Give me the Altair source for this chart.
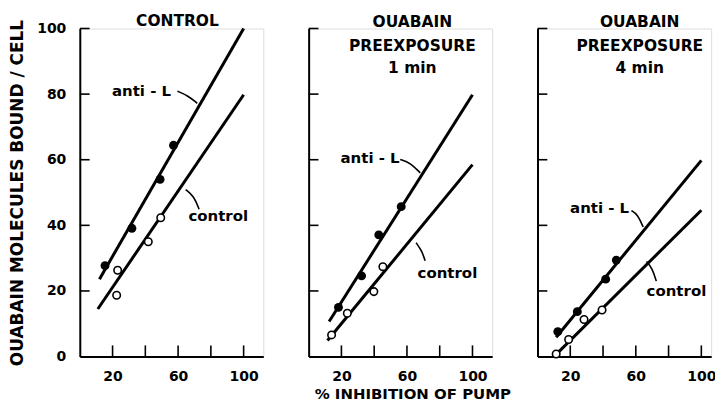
import altair as alt
import pandas as pd

FONT = "DejaVu Sans"

# ---- data (x = % inhibition of pump, y = ouabain molecules bound / cell)
antiL_line_x = [[12.0, 100.0], [12.5, 100.0], [11.4, 100.0]]
antiL_line_y = [[23.6, 100.0], [10.7, 79.8], [5.9, 59.8]]
ctrl_line_x = [[11.0, 100.0], [11.5, 100.0], [10.0, 100.0]]
ctrl_line_y = [[14.5, 79.8], [4.9, 58.5], [0.0, 44.6]]

antiL_pts_x = [[15.4, 31.8, 49.0, 57.2], [18.2, 32.3, 42.8, 56.5], [12.4, 24.3, 41.6, 48.1]]
antiL_pts_y = [[27.7, 39.1, 54.0, 64.4], [15.0, 24.6, 37.1, 45.7], [7.6, 13.7, 23.6, 29.4]]
ctrl_pts_x = [[23.1, 22.5, 41.8, 49.4], [14.0, 23.6, 39.8, 45.3], [11.4, 19.0, 28.4, 39.4]]
ctrl_pts_y = [[26.3, 18.7, 35.0, 42.3], [6.6, 13.2, 19.8, 27.4], [0.8, 5.2, 11.3, 14.2]]

# panel headings
title_lines = [["CONTROL"], ["OUABAIN", "PREEXPOSURE", "1 min"], ["OUABAIN", "PREEXPOSURE", "4 min"]]
title_y = [[102.4], [101.9, 94.8, 87.9], [101.9, 94.8, 87.9]]
title_x = [59.6, 63.3, 62.4]

# series labels and their leader curves
label_text = ["anti - L", "control"]
antiL_label_xy = [(37.7, 80.9), (37.5, 60.6), (37.9, 45.3)]
ctrl_label_xy = [(84.5, 42.9), (84.7, 25.6), (84.8, 19.9)]
antiL_leader_x = [[59.6, 65.7, 71.7], [55.9, 62.0, 68.1], [57.3, 61.0, 64.5]]
antiL_leader_y = [[80.9, 79.6, 77.2], [60.1, 59.1, 56.0], [44.5, 43.4, 39.5]]
ctrl_leader_x = [[64.6, 69.7, 72.8], [65.6, 69.1, 71.1], [66.5, 70.0, 72.5]]
ctrl_leader_y = [[50.9, 48.9, 44.9], [34.7, 32.2, 29.2], [29.0, 27.0, 23.0]]

# axes
x_tick_values = [20, 40, 60, 80, 100]
x_label_values = [20, 60, 100]
y_tick_values = [20, 40, 60, 80, 100]
y_label_values = [0, 20, 40, 60, 80, 100]
x_domains = [[0, 112], [0, 112], [0, 106]]
y_domain = [0, 100]
x_tick_len = 3.4   # in y data units (inward tick)
y_tick_len = 6.0   # in x data units (inward tick)

y_title = "OUABAIN MOLECULES BOUND / CELL"
x_title = "% INHIBITION OF PUMP"

PX_PER_X = 1.643
H = 329


def make_panel(i):
    show_y = i == 0
    show_xtitle = i == 1
    W = (x_domains[i][1] - x_domains[i][0]) * PX_PER_X
    xaxis = alt.Axis(
        values=x_label_values, ticks=False, grid=False, domain=True,
        domainColor="black", domainWidth=2, labelFont=FONT, labelFontWeight="bold",
        labelFontSize=14, labelColor="black", labelPadding=13,
        title=x_title if show_xtitle else None,
        titleFont=FONT, titleFontWeight="bold", titleFontSize=15, titleColor="black",
        titlePadding=3, titleX=W / 2 + 12,
    )
    yaxis = alt.Axis(
        values=y_label_values, ticks=False, grid=False, domain=True,
        domainColor="black", domainWidth=2, labels=show_y, labelFont=FONT,
        labelFontWeight="bold", labelFontSize=14, labelColor="black", labelPadding=14,
        title=y_title if show_y else None,
        titleFont=FONT, titleFontWeight="bold", titleFontSize=17, titleColor="black",
        titlePadding=10,
    )
    sx = alt.Scale(domain=x_domains[i], nice=False, zero=False)
    sy = alt.Scale(domain=y_domain, nice=False, zero=False)
    X = alt.X("x:Q", scale=sx, axis=xaxis)
    Y = alt.Y("y:Q", scale=sy, axis=yaxis)

    # inward tick marks, one table: vertical ticks on x axis, horizontal on y axis
    ticks = pd.DataFrame({
        "x": x_tick_values + [0.0] * len(y_tick_values),
        "xe": x_tick_values + [y_tick_len] * len(y_tick_values),
        "y": [0.0] * len(x_tick_values) + y_tick_values,
        "ye": [x_tick_len] * len(x_tick_values) + y_tick_values,
    })
    tick_layer = alt.Chart(ticks).mark_rule(color="black", strokeWidth=1.6).encode(
        x=X, x2=alt.X2("xe"), y=Y, y2=alt.Y2("ye"))

    lines = pd.DataFrame({
        "x": antiL_line_x[i] + ctrl_line_x[i],
        "y": antiL_line_y[i] + ctrl_line_y[i],
        "s": ["anti-L", "anti-L", "control", "control"],
    })
    line_layer = alt.Chart(lines).mark_line(color="black", strokeWidth=3).encode(
        x=X, y=Y, detail="s:N")

    leaders = pd.DataFrame({
        "x": antiL_leader_x[i] + ctrl_leader_x[i],
        "y": antiL_leader_y[i] + ctrl_leader_y[i],
        "s": ["a"] * 3 + ["c"] * 3,
    })
    leader_layer = alt.Chart(leaders).mark_line(
        color="black", strokeWidth=1.6, interpolate="basis").encode(x=X, y=Y, detail="s:N")

    filled = pd.DataFrame({"x": antiL_pts_x[i], "y": antiL_pts_y[i]})
    opened = pd.DataFrame({"x": ctrl_pts_x[i], "y": ctrl_pts_y[i]})
    filled_layer = alt.Chart(filled).mark_point(
        shape="circle", filled=True, color="black", size=80, opacity=1).encode(x=X, y=Y)
    open_layer = alt.Chart(opened).mark_point(
        shape="circle", filled=True, fill="white", stroke="black", strokeWidth=1.6,
        size=56, opacity=1).encode(x=X, y=Y)

    labels = pd.DataFrame({
        "x": [antiL_label_xy[i][0], ctrl_label_xy[i][0]],
        "y": [antiL_label_xy[i][1], ctrl_label_xy[i][1]],
        "t": label_text,
    })
    label_layer = alt.Chart(labels).mark_text(
        font=FONT, fontWeight="bold", fontSize=15, color="black", baseline="middle",
        align="center").encode(x=X, y=Y, text="t:N")

    heads = pd.DataFrame({
        "x": [title_x[i]] * len(title_lines[i]),
        "y": title_y[i],
        "t": title_lines[i],
    })
    head_layer = alt.Chart(heads).mark_text(
        font=FONT, fontWeight="bold", fontSize=15.5, color="black", baseline="middle",
        align="center").encode(x=X, y=Y, text="t:N")

    return alt.layer(
        tick_layer, line_layer, leader_layer, filled_layer, open_layer,
        label_layer, head_layer,
    ).properties(width=W, height=H)


chart = alt.hconcat(
    make_panel(0), make_panel(1), make_panel(2), spacing=44.5, bounds="flush"
).properties(
    padding={"left": 0, "top": 4, "right": -2, "bottom": 0}
).configure_view(stroke=None).configure(background="white")

chart.save("out.html", embed_options={"renderer": "svg", "actions": False})
